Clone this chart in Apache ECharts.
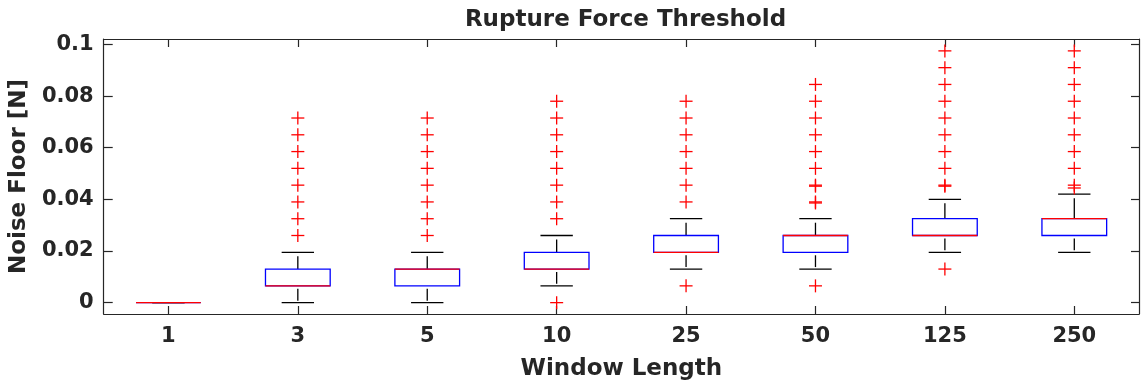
<!DOCTYPE html>
<html>
<head>
<meta charset="utf-8">
<script src="https://cdn.jsdelivr.net/npm/echarts@6/dist/echarts.min.js"></script>
<style>
  html, body { margin: 0; padding: 0; background: #ffffff; }
  #chart { width: 1144px; height: 386px; }
</style>
</head>
<body>
<div id="chart"></div>
<script>
// Window lengths on the horizontal axis
const categories = ['1', '3', '5', '10', '25', '50', '125', '250'];

// Box statistics per window length (N)
const whiskerLow  = [0, 0,      0,      0.0065, 0.013,  0.013,  0.0195, 0.0195];
const quartile1   = [0, 0.0065, 0.0065, 0.013,  0.0195, 0.0195, 0.026,  0.026];
const medians     = [0, 0.0065, 0.013,  0.013,  0.0195, 0.026,  0.026,  0.0325];
const quartile3   = [0, 0.013,  0.013,  0.0195, 0.026,  0.026,  0.0325, 0.0325];
const whiskerHigh = [0, 0.0195, 0.0195, 0.026,  0.0325, 0.0325, 0.040,  0.042];

// Outlying noise-floor values per window length (N)
const outliers = [
  [],
  [0.026, 0.0325, 0.039, 0.0455, 0.052, 0.0585, 0.065, 0.0715],
  [0.026, 0.0325, 0.039, 0.0455, 0.052, 0.0585, 0.065, 0.0715],
  [0, 0.0325, 0.039, 0.0455, 0.052, 0.0585, 0.065, 0.0715, 0.078],
  [0.0065, 0.039, 0.0455, 0.052, 0.0585, 0.065, 0.0715, 0.078],
  [0.0065, 0.0386, 0.039, 0.0451, 0.0455, 0.052, 0.0585, 0.065, 0.0715, 0.078, 0.0845],
  [0.013, 0.0451, 0.0455, 0.052, 0.0585, 0.065, 0.0715, 0.078, 0.0845, 0.091, 0.0975],
  [0.0444, 0.0455, 0.052, 0.0585, 0.065, 0.0715, 0.078, 0.0845, 0.091, 0.0975]
];

// Y tick positions and their labels
const yTicks = [0, 0.02, 0.04, 0.06, 0.08, 0.1];
const yTickLabels = ['0', '0.02', '0.04', '0.06', '0.08', '0.1'];

const yMin = -0.0044;
const yMax = 0.1021;

const boxData = categories.map((c, i) =>
  [i, whiskerLow[i], quartile1[i], medians[i], quartile3[i], whiskerHigh[i]]);
const outlierData = [];
outliers.forEach((vals, i) => vals.forEach(v => outlierData.push([i, v])));

const TEXT = '#262626';
const AXIS = '#262626';
const FONT = 'DejaVu Sans';
const LW = 1.3;

function renderBox(params, api) {
  const i = api.value(0);
  const band = api.size([1, 0])[0];
  const cx = api.coord([i, 0])[0];
  const y = k => api.coord([i, api.value(k)])[1];
  const yLo = y(1), yQ1 = y(2), yMed = y(3), yQ3 = y(4), yHi = y(5);
  const hw = band * 0.25, cw = band * 0.125;
  const black = { stroke: '#000000', lineWidth: LW };
  const kids = [];
  // whisker caps
  kids.push({ type: 'line', shape: { x1: cx - cw, y1: yHi, x2: cx + cw, y2: yHi }, style: black });
  kids.push({ type: 'line', shape: { x1: cx - cw, y1: yLo, x2: cx + cw, y2: yLo }, style: black });
  // whisker stems (dashed look: short gaps near the ends)
  if (yQ3 - yHi > 6) {
    kids.push({ type: 'line', shape: { x1: cx, y1: yQ3, x2: cx, y2: yHi + 4 }, style: black });
  }
  if (yLo - yQ1 > 6) {
    kids.push({ type: 'line', shape: { x1: cx, y1: yQ1 + 3, x2: cx, y2: yLo - 2 }, style: black });
  }
  // box
  kids.push({ type: 'rect', shape: { x: cx - hw, y: yQ3, width: 2 * hw, height: yQ1 - yQ3 },
              style: { fill: 'none', stroke: '#0000ff', lineWidth: LW } });
  // median
  kids.push({ type: 'line', shape: { x1: cx - hw, y1: yMed, x2: cx + hw, y2: yMed },
              style: { stroke: '#ff0000', lineWidth: LW } });
  return { type: 'group', children: kids };
}

function renderPlus(params, api) {
  const p = api.coord([api.value(0), api.value(1)]);
  const s = 6.5;
  const st = { stroke: '#ff0000', lineWidth: LW };
  return {
    type: 'group',
    children: [
      { type: 'line', shape: { x1: p[0] - s, y1: p[1], x2: p[0] + s, y2: p[1] }, style: st },
      { type: 'line', shape: { x1: p[0], y1: p[1] - s, x2: p[0], y2: p[1] + s }, style: st }
    ]
  };
}

const chart = echarts.init(document.getElementById('chart'), null, { renderer: 'canvas' });

const axisLine = { show: true, onZero: false, lineStyle: { color: AXIS, width: 1.2 } };

chart.setOption({
  animation: false,
  backgroundColor: '#ffffff',
  textStyle: { fontFamily: FONT },
  title: {
    text: 'Rupture Force Threshold',
    left: 620.5,
    textAlign: 'center',
    top: 4,
    textStyle: { fontFamily: FONT, fontSize: 23, fontWeight: 'bold', color: TEXT }
  },
  grid: { left: 102, right: 5, top: 39, bottom: 72, containLabel: false },
  xAxis: [
    {
      type: 'category',
      data: categories,
      position: 'bottom',
      boundaryGap: true,
      name: 'Window Length',
      nameLocation: 'middle',
      nameGap: 44,
      nameTextStyle: { fontFamily: FONT, fontSize: 23, fontWeight: 'bold', color: TEXT },
      axisLine: axisLine,
      axisTick: { show: true, inside: true, length: 8, alignWithLabel: true, interval: 0, lineStyle: { color: AXIS, width: 1.2 } },
      axisLabel: { show: true, margin: 12, fontFamily: FONT, fontSize: 21, fontWeight: 'bold', color: TEXT },
      splitLine: { show: false }
    },
    {
      type: 'category',
      data: categories,
      position: 'top',
      boundaryGap: true,
      axisLine: axisLine,
      axisTick: { show: true, inside: true, length: 8, alignWithLabel: true, interval: 0, lineStyle: { color: AXIS, width: 1.2 } },
      axisLabel: { show: false },
      splitLine: { show: false }
    }
  ],
  yAxis: [
    {
      type: 'value',
      position: 'left',
      min: yMin,
      max: yMax,
      name: 'Noise Floor [N]',
      nameLocation: 'middle',
      nameGap: 62,
      nameTextStyle: { fontFamily: FONT, fontSize: 23, fontWeight: 'bold', color: TEXT },
      axisLine: axisLine,
      axisTick: { show: true, inside: true, length: 9, customValues: yTicks, lineStyle: { color: AXIS, width: 1.2 } },
      axisLabel: {
        show: true, margin: 10, customValues: yTicks,
        fontFamily: FONT, fontSize: 21, fontWeight: 'bold', color: TEXT,
        formatter: v => yTickLabels[yTicks.findIndex(t => Math.abs(t - v) < 1e-9)]
      },
      splitLine: { show: false }
    },
    {
      type: 'value',
      position: 'right',
      min: yMin,
      max: yMax,
      axisLine: axisLine,
      axisTick: { show: true, inside: true, length: 8, customValues: yTicks, lineStyle: { color: AXIS, width: 1.2 } },
      axisLabel: { show: false },
      splitLine: { show: false }
    }
  ],
  series: [
    {
      type: 'custom',
      name: 'boxes',
      xAxisIndex: 0,
      yAxisIndex: 0,
      renderItem: renderBox,
      encode: { x: 0, y: [1, 2, 3, 4, 5] },
      data: boxData,
      clip: false
    },
    {
      type: 'custom',
      name: 'outliers',
      xAxisIndex: 0,
      yAxisIndex: 0,
      renderItem: renderPlus,
      encode: { x: 0, y: 1 },
      data: outlierData,
      clip: false
    }
  ]
});
</script>
</body>
</html>
